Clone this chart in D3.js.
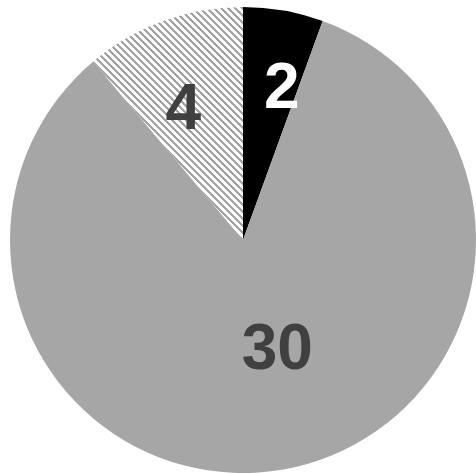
<!DOCTYPE html>
<html><head><meta charset="utf-8">
<script src="https://cdn.jsdelivr.net/npm/d3@7"></script>
<style>html,body{margin:0;padding:0;background:#fff;}svg{display:block;}</style>
</head><body>
<script>
const categories = ["A", "B", "C"];
const values = [2, 30, 4];
const labels = ["2", "30", "4"];

const W = 476, H = 474;
const cx = 243, cy = 240, R = 233;
const fills = ["#000000", "#a6a6a6", "url(#hatch)"];
const textColors = ["#ffffff", "#404040", "#404040"];
const labelR = [160, 111, 147];
const labelShift = [4, -8, -4]; // degrees

const svg = d3.select("body").append("svg").attr("width", W).attr("height", H);
const defs = svg.append("defs");
const T = 7, h = 1.5;
const pat = defs.append("pattern").attr("id", "hatch").attr("patternUnits", "userSpaceOnUse")
  .attr("width", T).attr("height", T);
pat.append("rect").attr("width", T).attr("height", T).attr("fill", "#ffffff");
const bands = [
  [[0,0],[h,0],[T,T-h],[T,T],[T-h,T],[0,h]],
  [[T-h,0],[T,0],[T,h]],
  [[0,T-h],[0,T],[h,T]]
];
pat.selectAll("polygon").data(bands).join("polygon")
  .attr("points", d => d.map(p => p.join(",")).join(" "))
  .attr("fill", "#a3a3a3").attr("shape-rendering", "crispEdges");

const pie = d3.pie().sort(null).value(d => d)(values);
const arc = d3.arc().innerRadius(0).outerRadius(R);
const g = svg.append("g").attr("transform", `translate(${cx},${cy})`);
g.selectAll("path").data(pie).join("path").attr("d", arc).attr("fill", (d, i) => fills[i]);

g.selectAll("text").data(pie).join("text")
  .attr("transform", (d, i) => {
    const a = (d.startAngle + d.endAngle) / 2 + labelShift[i] * Math.PI / 180;
    const [x, y] = d3.pointRadial(a, labelR[i]);
    return `translate(${x},${y})`;
  })
  .attr("text-anchor", "middle").attr("dy", "0.36em")
  .attr("font-family", "Liberation Sans, Arial, sans-serif").attr("font-weight", "bold")
  .attr("font-size", 64).attr("fill", (d, i) => textColors[i])
  .text((d, i) => labels[i]);
</script>
</body></html>
